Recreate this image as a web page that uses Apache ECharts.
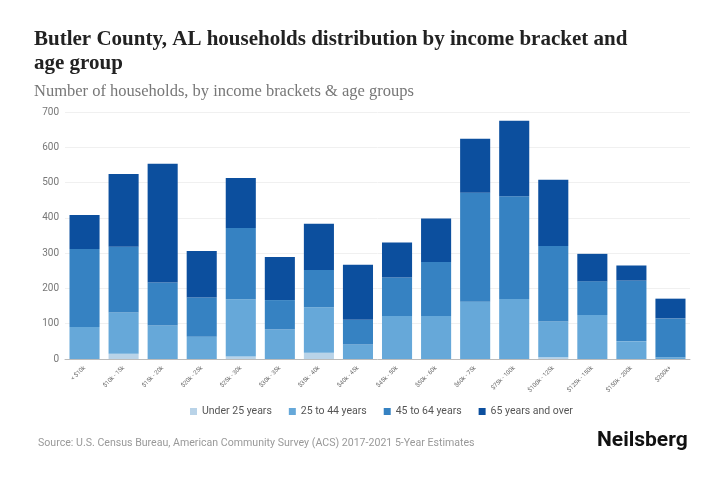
<!DOCTYPE html>
<html>
<head>
<meta charset="utf-8">
<script src="https://cdn.jsdelivr.net/npm/echarts@6/dist/echarts.min.js"></script>
<style>
	html, body { margin: 0; padding: 0; background: #fff; }
	#chart { width: 720px; height: 480px; }
</style>
</head>
<body>
<div id="chart"></div>
<script>
// income brackets
var brackets = ['< $10k', '$10k - 15k', '$15k - 20k', '$20k - 25k', '$25k - 30k', '$30k - 35k',
	'$35k - 40k', '$40k - 45k', '$45k - 50k', '$50k - 60k', '$60k - 75k', '$75k - 100k',
	'$100k - 125k', '$125k - 150k', '$150k - 200k', '$200k+']

// households per age group
var under25 = [0, 15, 0, 0, 7, 0, 18, 0, 0, 0, 0, 0, 5, 0, 0, 0]
var age25to44 = [91, 117, 95, 63, 162, 84, 129, 41, 122, 122, 162, 170, 101, 125, 50, 5]
var age45to64 = [221, 186, 122, 111, 202, 83, 105, 70, 109, 153, 309, 291, 214, 95, 172, 110]
var age65plus = [96, 206, 336, 132, 142, 122, 131, 156, 99, 123, 153, 214, 188, 78, 43, 56]

var yTicks = [0, 100, 200, 300, 400, 500, 600, 700]

var groups = ['Under 25 years', '25 to 44 years', '45 to 64 years', '65 years and over']
var colors = ['#b9d3e8', '#66a8d9', '#3682c2', '#0c4f9e']

var chart = echarts.init(document.getElementById('chart'))

var series = [under25, age25to44, age45to64, age65plus].map(function(d, i) {
	return {
		name: groups[i],
		type: 'bar',
		stack: 'total',
		barWidth: '77%',
		itemStyle: { color: colors[i] },
		data: d
	}
})

var option = {
	animation: false,
	color: colors,
	title: [{
		text: 'Butler County, AL households distribution by income bracket and\nage group',
		left: 29,
		top: 23,
		textStyle: {
			fontFamily: 'Liberation Serif',
			fontWeight: 'bold',
			fontSize: 21,
			lineHeight: 24,
			color: '#222'
		}
	}, {
		text: 'Number of households, by income brackets & age groups',
		left: 29,
		top: 78,
		textStyle: {
			fontFamily: 'Liberation Serif',
			fontWeight: 'normal',
			fontSize: 16.5,
			color: '#777'
		}
	}, {
		text: 'Source: U.S. Census Bureau, American Community Survey (ACS) 2017-2021 5-Year Estimates',
		left: 33,
		top: 433,
		textStyle: {
			fontFamily: 'Roboto',
			fontWeight: 'normal',
			fontSize: 10.6,
			color: '#999'
		}
	}, {
		text: 'Neilsberg',
		left: 592,
		top: 425,
		textStyle: {
			fontFamily: 'Roboto',
			fontWeight: 'bold',
			fontSize: 21,
			color: '#111'
		}
	}],
	legend: {
		bottom: 58,
		left: 185,
		itemWidth: 7,
		itemHeight: 7,
		itemGap: 17,
		icon: 'rect',
		textStyle: { fontFamily: 'Roboto', fontSize: 10.5, color: '#555' },
		data: groups
	},
	grid: {
		left: 65,
		right: 30,
		top: 112,
		bottom: 121
	},
	xAxis: {
		type: 'category',
		data: brackets,
		axisTick: { show: false },
		axisLine: { lineStyle: { color: '#bbb' } },
		axisLabel: {
			rotate: 45,
			fontSize: 6,
			fontFamily: 'Roboto',
			color: '#666',
			interval: 0,
			margin: 8
		}
	},
	yAxis: {
		type: 'value',
		min: yTicks[0],
		max: yTicks[yTicks.length - 1],
		interval: 100,
		axisLine: { show: false },
		axisTick: { show: false },
		splitLine: { lineStyle: { color: '#f0f0f0' } },
		axisLabel: { fontFamily: 'Roboto', fontSize: 10, color: '#777', margin: 6 }
	},
	series: series
}

chart.setOption(option)
</script>
</body>
</html>
